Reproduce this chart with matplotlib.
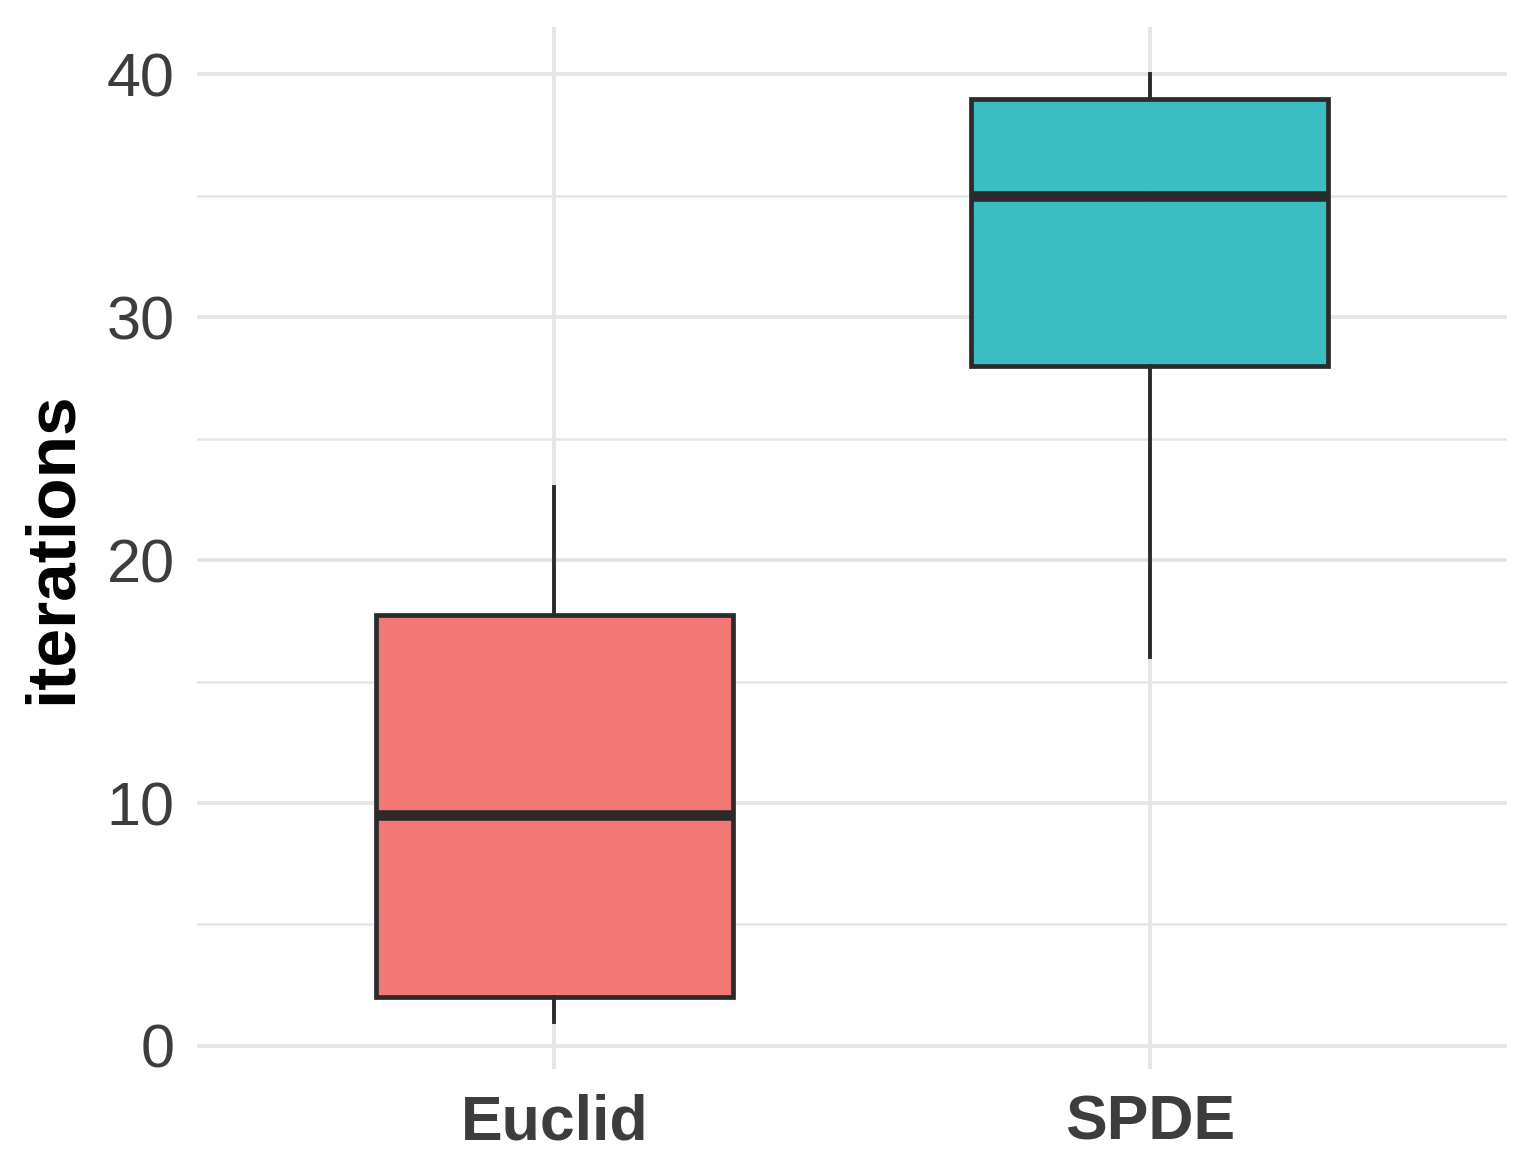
import matplotlib.pyplot as plt
from matplotlib.colors import to_rgba

categories = ['Euclid', 'SPDE']
whislo = [1, 16]
q1 = [2, 28]
med = [9.5, 35]
q3 = [17.75, 39]
whishi = [23, 40]
colors = ['#F3706E', '#30BBBF']
alphas = [0.95, 0.95]

plt.rcParams['font.family'] = ['Liberation Sans', 'DejaVu Sans']

fig = plt.figure(figsize=(7.67, 5.88), dpi=200)
ax = fig.add_axes([197 / 1534, 1 - 1069 / 1176, (1507 - 197) / 1534, (1069 - 27) / 1176])

stats = [dict(label=c, whislo=lo, q1=a, med=m, q3=b, whishi=hi, fliers=[])
         for c, lo, a, m, b, hi in zip(categories, whislo, q1, med, q3, whishi)]

bp = ax.bxp(stats, positions=[1, 2], widths=0.6, patch_artist=True,
            showcaps=False,
            boxprops=dict(edgecolor='#2b2b2b', linewidth=1.7),
            medianprops=dict(color='#2b2b2b', linewidth=3.8, solid_capstyle='butt'),
            whiskerprops=dict(color='#2b2b2b', linewidth=1.4))
for patch, col, a in zip(bp['boxes'], colors, alphas):
    r, g, b, _ = to_rgba(col)
    patch.set_facecolor((r, g, b, a))
    patch.set_zorder(3)
for ln in bp['medians'] + bp['whiskers']:
    ln.set_zorder(4)

ax.set_xlim(0.4, 2.6)
ax.set_ylim(-0.95, 41.95)
ax.set_yticks([0, 10, 20, 30, 40])
ax.set_yticks([5, 15, 25, 35], minor=True)
ax.set_xticks([1, 2])
ax.set_xticklabels(categories, fontsize=22.5, fontweight='bold', color='#3d3d3d')
ax.tick_params(axis='y', labelsize=22, labelcolor='#3d3d3d', length=0, pad=8)
ax.tick_params(axis='x', length=0, pad=9)
ax.tick_params(which='minor', length=0)

ax.grid(True, which='major', color='#e6e6e6', linewidth=1.4, zorder=0)
ax.grid(True, which='minor', axis='y', color='#e6e6e6', linewidth=0.9, zorder=0)
ax.set_axisbelow(True)
for s in ax.spines.values():
    s.set_visible(False)

ax.set_ylabel('iterations', fontsize=25, fontweight='bold', color='black', labelpad=8)

plt.savefig('out.png', dpi=200)
